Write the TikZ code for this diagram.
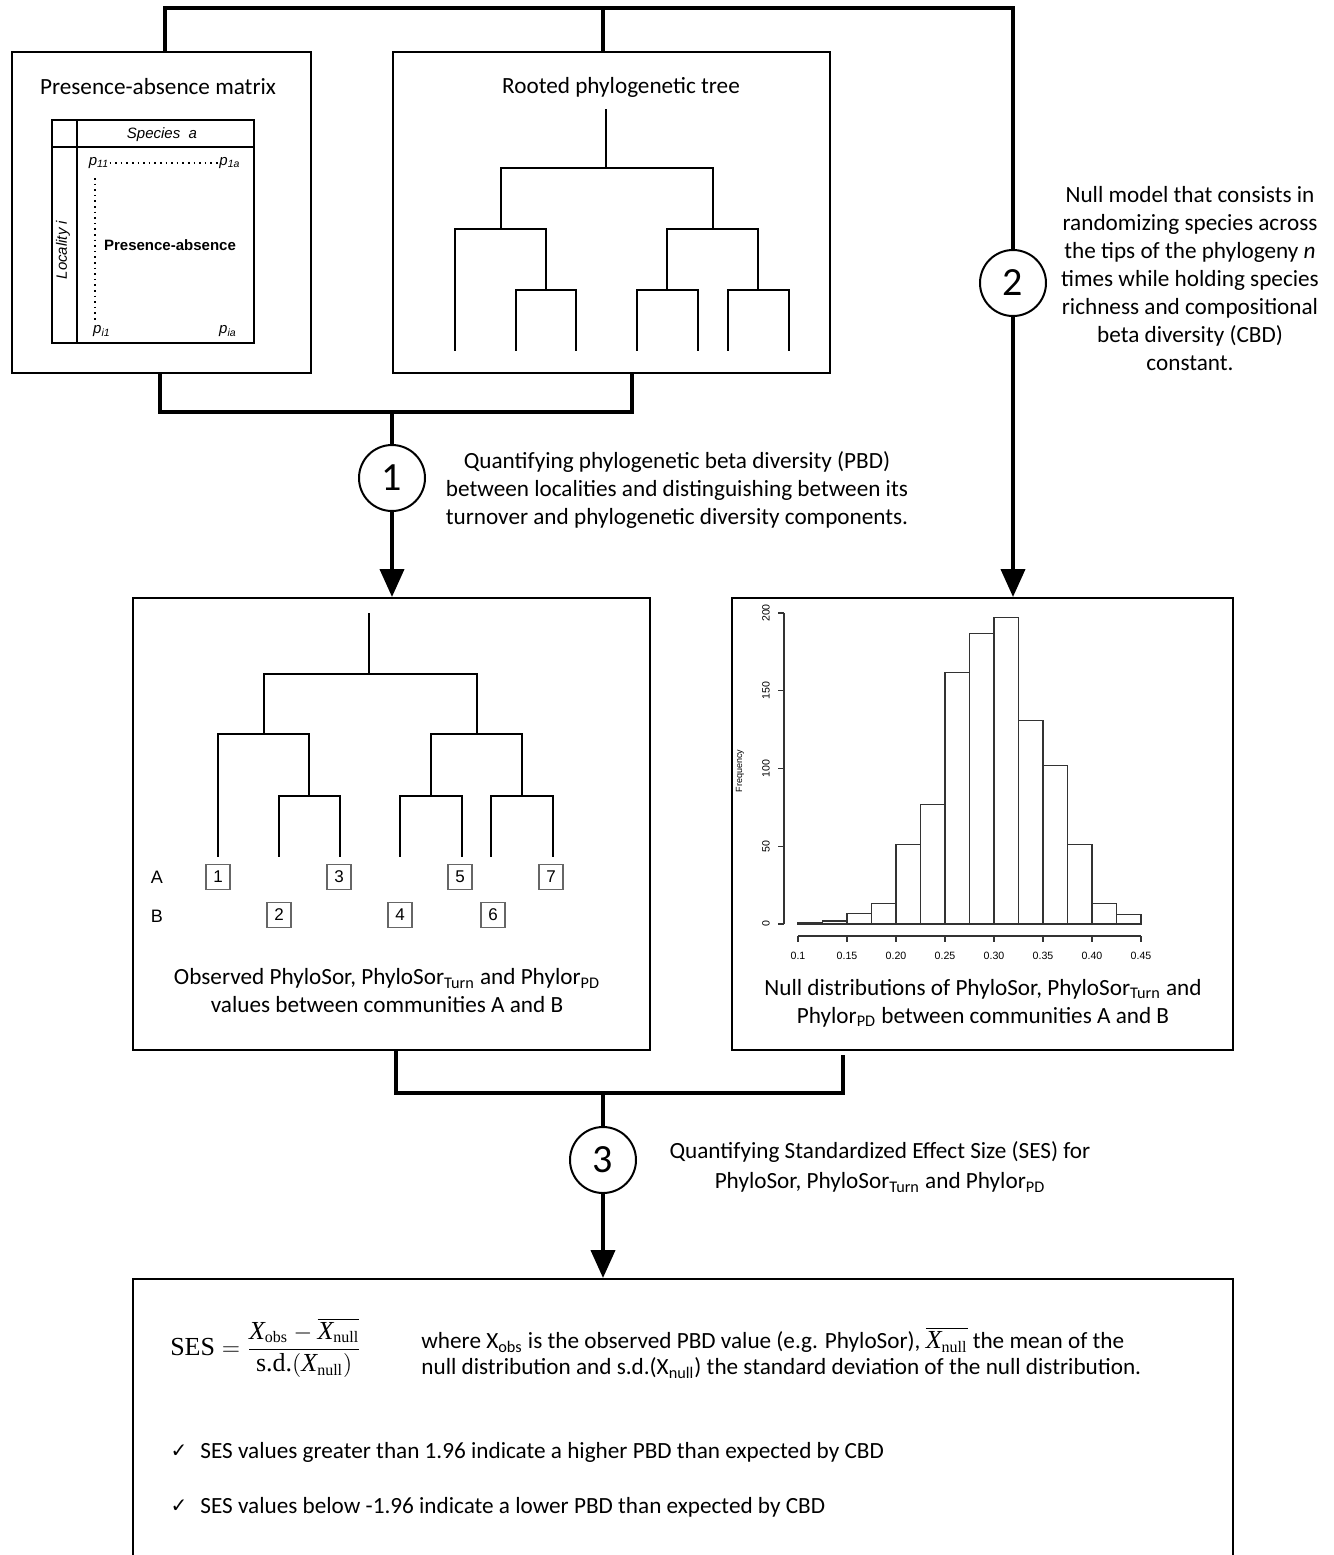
\documentclass[tikz,border=0pt]{standalone}
\usepackage{fontspec}
\setmainfont{Carlito}
\newfontfamily\arialf{Liberation Sans}
\newfontfamily\tnrf{Liberation Serif}
\newfontfamily\dejavuf{DejaVu Sans}
\usetikzlibrary{arrows.meta}
\newcommand\tX{\mbox{\tnrf\itshape X}}
\newcommand\subf[1]{\mbox{\tnrf\fontsize{8}{9}\selectfont #1}}
\begin{document}
\begin{tikzpicture}[x=0.5pt,y=-0.5pt,
  box/.style={draw,line width=1pt,inner sep=0pt,fill=white},
  circ/.style={draw,circle,line width=1pt,minimum size=33pt,inner sep=0pt,fill=white,font=\fontsize{20}{24}\selectfont},
  conn/.style={line width=2pt,line join=miter},
  arr/.style={-{Triangle[length=14pt,width=12pt]}},
  tree/.style={line width=1.1pt,line cap=rect},
  txt/.style={font=\fontsize{11.6}{14}\selectfont,align=center,inner sep=0pt},
  leafbox/.style={draw=gray!80!black,line width=0.6pt,minimum width=12pt,minimum height=12.5pt,inner sep=0pt,font=\arialf\fontsize{8.5}{10}\selectfont},
  mat/.style={font=\arialf\fontsize{7.5}{9}\selectfont,inner sep=0pt},
  ticklbl/.style={font=\arialf\fontsize{5.3}{6}\selectfont,inner sep=0pt},
  bar/.style={line width=0.6pt,draw=black!80}]
\useasboundingbox (0,0) rectangle (1334,1555);
\fill[white] (0,0) rectangle (1334,1555);

% boxes
\node[box,minimum width=149.5pt,minimum height=160.5pt] (b1) at (161.5,212.5) {};
\node[box,minimum width=218.5pt,minimum height=160.5pt] (b2) at (611.5,212.5) {};
\node[box,minimum width=258.5pt,minimum height=226pt] (b3) at (391.5,824) {};
\node[box,minimum width=250.5pt,minimum height=226pt] (b4) at (982.5,824) {};
\node[box,minimum width=550pt,minimum height=140.5pt] (b5) at (683,1419.5) {};

% circles
\node[circ] (c1) at (392,478) {1};
\node[circ] (c2) at (1013,283) {2};
\node[circ] (c3) at (603,1160) {3};

% connectors
\coordinate (t1) at (165,8);
\coordinate (t2) at (603,8);
\coordinate (t3) at (1013,8);
\draw[conn] (t1 |- b1.north) -- (t1) -- (t3) -- (c2);
\draw[conn] (t2) -- (t2 |- b2.north);
\draw[conn,arr] (c2) -- (c2 |- b4.north);

\coordinate (u1) at (160,412);
\coordinate (u2) at (632,412);
\coordinate (u3) at (392,412);
\draw[conn] (u1 |- b1.south) -- (u1) -- (u2) -- (u2 |- b2.south);
\draw[conn] (u3) -- (c1);
\draw[conn,arr] (c1) -- (c1 |- b3.north);

\coordinate (v1) at (396,1093);
\coordinate (v2) at (843,1093);
\coordinate (v3) at (603,1093);
\coordinate (v2t) at (843,1055);
\draw[conn] (v1 |- b3.south) -- (v1) -- (v2) -- (v2t);
\draw[conn] (v3) -- (c3);
\draw[conn,arr] (c3) -- (c3 |- b5.north);

% texts beside circles
\node[txt] (tx1) at (677,490) {Quantifying phylogenetic beta diversity (PBD)\\between localities and distinguishing between its\\turnover and phylogenetic diversity components.};
\node[txt] (tx2) at (1190,279) {Null model that consists in\\randomizing species across\\the tips of the phylogeny \emph{n}\\times while holding species\\richness and compositional\\beta diversity (CBD)\\constant.};
\node[txt,font=\fontsize{11.6}{15}\selectfont] (tx3) at (880,1167) {Quantifying Standardized Effect Size (SES) for\\PhyloSor, PhyloSor\textsubscript{Turn} and Phylor\textsubscript{PD}};

% box 1: presence-absence matrix
\node[txt] (ti1) at (158,87) {Presence-absence matrix};
\draw[line width=1pt] (52,120) rectangle (254,343);
\draw[line width=1pt] (77,120) -- (77,343);
\draw[line width=1pt] (52,147) -- (254,147);
\node[mat,font=\arialf\itshape\fontsize{7.5}{9}\selectfont] (spa) at (162,135) {Species\ \ a};
\node[mat,rotate=90,font=\arialf\itshape\fontsize{7.5}{9}\selectfont] (loc) at (63,250) {Locality i};
\node[mat,font=\arialf\itshape\fontsize{7.5}{9}\selectfont] (p11) at (99,163) {p\textsubscript{11}};
\node[mat,font=\arialf\itshape\fontsize{7.5}{9}\selectfont] (p1a) at (230,163) {p\textsubscript{1a}};
\node[mat,font=\arialf\itshape\fontsize{7.5}{9}\selectfont] (pi1) at (102,331) {p\textsubscript{i1}};
\node[mat,font=\arialf\itshape\fontsize{7.5}{9}\selectfont] (pia) at (228,331) {p\textsubscript{ia}};
\node[mat,font=\arialf\bfseries\fontsize{7.5}{9}\selectfont] (pa) at (170,245) {Presence-absence};
\draw[dotted,line width=0.8pt] (p11.east) -- (p1a.west);
\draw[dotted,line width=0.8pt] (95,178) -- (95,320);

% box 2: rooted tree
\node[txt] (ti2) at (621,87) {Rooted phylogenetic tree};
\draw[tree] (606,110) -- (606,168);
\draw[tree] (501,229) |- (713,168) -- (713,229);
\draw[tree] (455,350) |- (546,229) -- (546,290);
\draw[tree] (516,350) |- (576,290) -- (576,350);
\draw[tree] (667,290) |- (758,229) -- (758,290);
\draw[tree] (637,350) |- (698,290) -- (698,350);
\draw[tree] (728,350) |- (789,290) -- (789,350);

% box 3: tree with communities
\draw[tree] (369,614) -- (369,674);
\draw[tree] (264,734) |- (477,674) -- (477,734);
\draw[tree] (218,856) |- (309,734) -- (309,796);
\draw[tree] (279,856) |- (340,796) -- (340,856);
\draw[tree] (431,796) |- (522,734) -- (522,796);
\draw[tree] (400,856) |- (462,796) -- (462,856);
\draw[tree] (491,856) |- (553,796) -- (553,856);
\node[mat,font=\arialf\fontsize{9}{10}\selectfont] (la) at (157,877) {A};
\node[mat,font=\arialf\fontsize{9}{10}\selectfont] (lb) at (157,916) {B};
\node[leafbox] (l1) at (218,877) {1};
\node[leafbox] (l3) at (339,877) {3};
\node[leafbox] (l5) at (460,877) {5};
\node[leafbox] (l7) at (551,877) {7};
\node[leafbox] (l2) at (279,915) {2};
\node[leafbox] (l4) at (400,915) {4};
\node[leafbox] (l6) at (493,915) {6};
\node[txt] (tx4) at (387,991) {Observed PhyloSor, PhyloSor\textsubscript{Turn} and Phylor\textsubscript{PD}\\values between communities A and B};

% box 4: histogram
\foreach \h [count=\i from 0] in {1,2,7,13,51,77,162,187,197,131,102,51,13,6}
  \draw[bar] ({798+\i*24.5},924) rectangle ({798+(\i+1)*24.5},{924-\h*1.555});
\draw[line width=0.6pt,black!80] (784,924) -- (784,613);
\foreach \v in {0,50,100,150,200} {
  \draw[line width=0.6pt,black!80] (784,{924-\v*1.555}) -- (778,{924-\v*1.555});
  \node[ticklbl,rotate=90] at (766,{924-\v*1.555}) {\v};
}
\node[ticklbl,rotate=90,font=\arialf\fontsize{4.5}{5}\selectfont] (freq) at (740,771) {Frequency};
\draw[line width=0.6pt,black!80] (798,936) -- (1141,936);
\foreach \l [count=\k from 0] in {0.1,0.15,0.20,0.25,0.30,0.35,0.40,0.45} {
  \draw[line width=0.6pt,black!80] ({798+\k*49},936) -- ({798+\k*49},942);
  \node[ticklbl] at ({798+\k*49},956) {\l};
}
\node[txt] (tx5) at (983,1003) {Null distributions of PhyloSor, PhyloSor\textsubscript{Turn} and\\Phylor\textsubscript{PD} between communities A and B};

% box 5: SES
\node[inner sep=0pt,font=\tnrf\fontsize{13}{15}\selectfont] (ses) at (266,1348)
  {$\mbox{\tnrf\fontsize{13}{15}\selectfont SES} = \displaystyle\frac{\tX_{\subf{obs}} - \overline{\tX_{\subf{null}}}}{\mbox{\tnrf\fontsize{13}{15}\selectfont s.d.}(\tX_{\subf{null}})}$};
\node[txt,anchor=west,align=left] (w1) at (421,1340) {where X\textsubscript{obs} is the observed PBD value (e.g. PhyloSor), {\fontsize{13}{15}\selectfont$\overline{\tX_{\subf{null}}}$} the mean of the};
\node[txt,anchor=west,align=left] (w2) at (421,1368) {null distribution and s.d.(X\textsubscript{null}) the standard deviation of the null distribution.};
\node[inner sep=0pt,font=\dejavuf\fontsize{10}{11}\selectfont] (ck1) at (179,1451) {✓};
\node[txt,anchor=west,align=left] (bl1) at (200,1452) {SES values greater than 1.96 indicate a higher PBD than expected by CBD};
\node[inner sep=0pt,font=\dejavuf\fontsize{10}{11}\selectfont] (ck2) at (179,1506) {✓};
\node[txt,anchor=west,align=left] (bl2) at (200,1507) {SES values below -1.96 indicate a lower PBD than expected by CBD};
\end{tikzpicture}
\end{document}
